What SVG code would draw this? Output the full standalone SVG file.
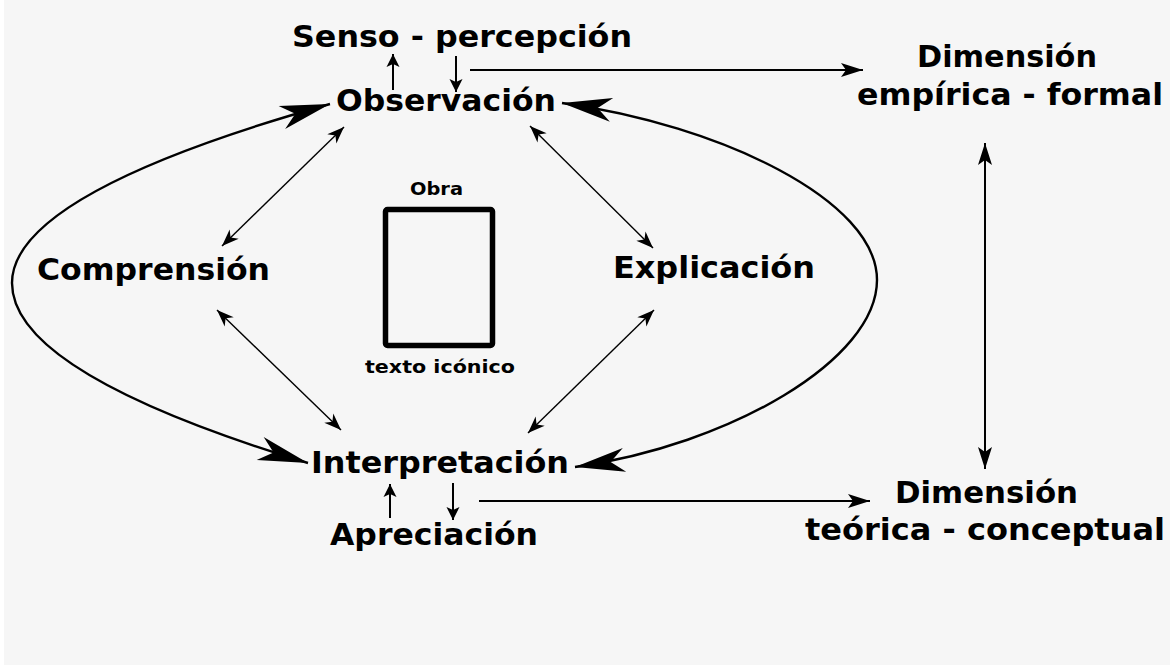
<svg xmlns="http://www.w3.org/2000/svg" width="1170" height="666" viewBox="0 0 1170 666">
<defs>
<style>
text{font-family:"DejaVu Sans","Liberation Sans",sans-serif;font-weight:bold;fill:#000;}
.lbl{font-size:30px;}
.sm{font-size:17px;}
.conn{fill:none;stroke:#000;}
.big{stroke-width:2.4;}
.thin{stroke-width:1.4;}
.med{stroke-width:2;}
</style>
<marker id="bigHead" markerUnits="userSpaceOnUse" viewBox="-52 -16 54 32" markerWidth="54" markerHeight="32" refX="0" refY="0" orient="auto-start-reverse">
<path d="M0,0 L-50,-12 L-36,0 L-50,12 Z" fill="#000"/>
</marker>
<marker id="smallHead" markerUnits="userSpaceOnUse" viewBox="-20 -10 22 20" markerWidth="22" markerHeight="20" refX="0" refY="0" orient="auto-start-reverse">
<path d="M0,0 L-17,-6.5 L-12,0 L-17,6.5 Z" fill="#000"/>
</marker>
<marker id="midHead" markerUnits="userSpaceOnUse" viewBox="-24 -10 26 20" markerWidth="26" markerHeight="20" refX="0" refY="0" orient="auto-start-reverse">
<path d="M0,0 L-22,-7 L-17,0 L-22,7 Z" fill="#000"/>
</marker>
<marker id="tinyHead" markerUnits="userSpaceOnUse" viewBox="-16 -10 18 20" markerWidth="18" markerHeight="20" refX="0" refY="0" orient="auto-start-reverse">
<path d="M0,0 L-13,-6.5 L-10,0 L-13,6.5 Z" fill="#000"/>
</marker>
</defs>
<rect x="0" y="0" width="1170" height="666" fill="#ffffff"/>
<rect x="4" y="0" width="1166" height="665" fill="#f6f6f6"/>

<g id="connectors">
<path class="conn big" d="M330,104 Q12,193.5 12,283 Q12,373 308,463" marker-start="url(#bigHead)" marker-end="url(#bigHead)"/>
<path class="conn big" d="M562,103 C720,125 877,200 877,280 C877,360 730,445 575,467" marker-start="url(#bigHead)" marker-end="url(#bigHead)"/>
<line class="conn thin" x1="344" y1="127" x2="222" y2="246" marker-start="url(#smallHead)" marker-end="url(#smallHead)"/>
<line class="conn thin" x1="217" y1="310" x2="341" y2="430" marker-start="url(#smallHead)" marker-end="url(#smallHead)"/>
<line class="conn thin" x1="530" y1="126" x2="653" y2="248" marker-start="url(#smallHead)" marker-end="url(#smallHead)"/>
<line class="conn thin" x1="654" y1="310" x2="528" y2="433" marker-start="url(#smallHead)" marker-end="url(#smallHead)"/>
<line class="conn med" x1="393" y1="90" x2="393" y2="54" marker-end="url(#tinyHead)"/>
<line class="conn med" x1="456" y1="56" x2="456" y2="92" marker-end="url(#tinyHead)"/>
<line class="conn med" x1="390" y1="518" x2="390" y2="484" marker-end="url(#tinyHead)"/>
<line class="conn med" x1="453" y1="483" x2="453" y2="520" marker-end="url(#tinyHead)"/>
<line class="conn med" x1="470" y1="70" x2="863" y2="70" marker-end="url(#midHead)"/>
<line class="conn med" x1="479" y1="501" x2="870" y2="501" marker-end="url(#midHead)"/>
<line class="conn med" x1="985" y1="143" x2="985" y2="469" marker-start="url(#midHead)" marker-end="url(#midHead)"/>
</g>

<g id="senso"><text class="lbl" x="462" y="47" text-anchor="middle" textLength="340" lengthAdjust="spacingAndGlyphs">Senso - percepción</text></g>
<g id="observacion"><text class="lbl" x="446" y="111" text-anchor="middle" textLength="220" lengthAdjust="spacingAndGlyphs">Observación</text></g>
<g id="comprension"><text class="lbl" x="153.5" y="280" text-anchor="middle" textLength="233" lengthAdjust="spacingAndGlyphs">Comprensión</text></g>
<g id="explicacion"><text class="lbl" x="714" y="278" text-anchor="middle" textLength="202" lengthAdjust="spacingAndGlyphs">Explicación</text></g>
<g id="interpretacion"><text class="lbl" x="440" y="473" text-anchor="middle" textLength="258" lengthAdjust="spacingAndGlyphs">Interpretación</text></g>
<g id="apreciacion"><text class="lbl" x="434" y="545" text-anchor="middle" textLength="208" lengthAdjust="spacingAndGlyphs">Apreciación</text></g>
<g id="dim-empirica">
<text class="lbl" x="1007" y="67" text-anchor="middle" textLength="180" lengthAdjust="spacingAndGlyphs">Dimensión</text>
<text class="lbl" x="1010" y="105" text-anchor="middle" textLength="306" lengthAdjust="spacingAndGlyphs">empírica - formal</text>
</g>
<g id="dim-teorica">
<text class="lbl" x="986.5" y="503" text-anchor="middle" textLength="183" lengthAdjust="spacingAndGlyphs">Dimensión</text>
<text class="lbl" x="985" y="540" text-anchor="middle" textLength="360" lengthAdjust="spacingAndGlyphs">teórica - conceptual</text>
</g>
<g id="obra">
<text class="sm" x="436.5" y="195" text-anchor="middle" textLength="53" lengthAdjust="spacingAndGlyphs" style="font-size:18px">Obra</text>
<rect x="385.5" y="209.5" width="107" height="136" rx="2" fill="none" stroke="#000" stroke-width="5.5"/>
<text class="sm" x="440" y="373" text-anchor="middle" textLength="150" lengthAdjust="spacingAndGlyphs">texto icónico</text>
</g>
</svg>
